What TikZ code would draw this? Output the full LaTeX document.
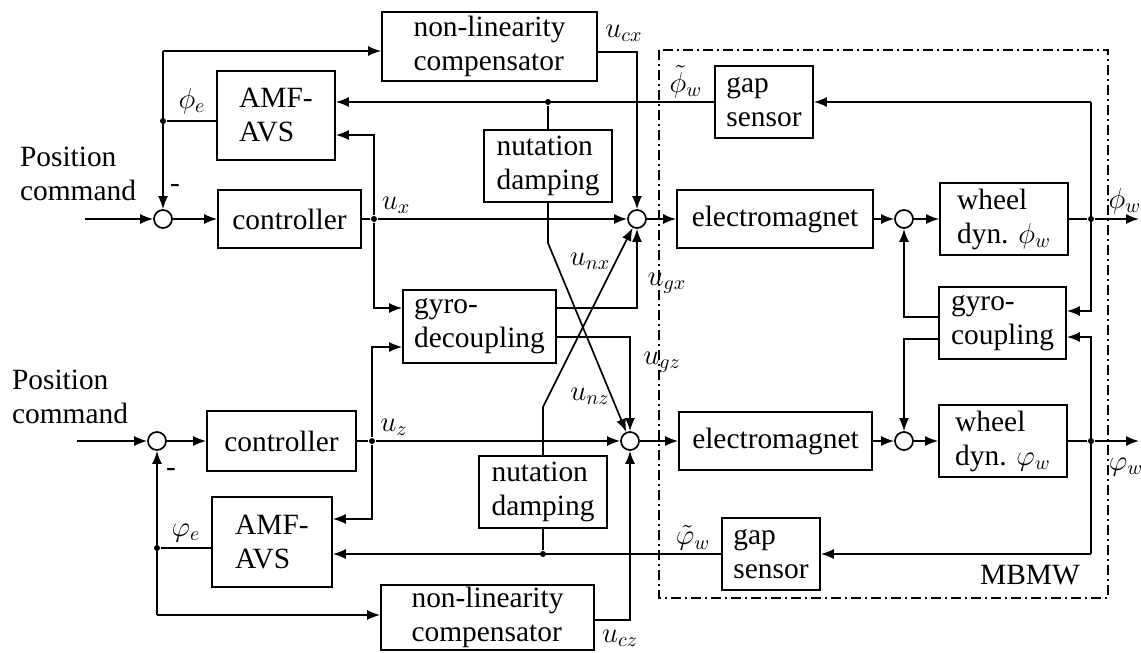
\documentclass[tikz,border=0pt]{standalone}
\usepackage{fontspec}
\setmainfont{Liberation Serif}
\usetikzlibrary{arrows.meta}
\begin{document}
\begin{tikzpicture}[x=0.5pt,y=-0.5pt,line width=0.85pt,
  box/.style={draw,inner sep=0pt,align=left,font=\fontsize{14.7}{17}\selectfont},
  bb/.style n args={4}{at={({(#1+#3)/2},{(#2+#4)/2})},minimum width={(#3-#1)*0.5pt},minimum height={(#4-#2)*0.5pt}},
  sumc/.style={circle,draw,minimum size=9pt,inner sep=0pt},
  dot/.style={circle,fill,minimum size=3pt,inner sep=0pt},
  arr/.style={-{Latex[length=6.5pt,width=5pt]}},
  lbl/.style={font=\fontsize{14.7}{17}\selectfont,inner sep=0pt,align=left},
  mbmw/.style={dash pattern=on 5pt off 2pt on 1pt off 2pt}]
\useasboundingbox (0,0) rectangle (1141,653);
% boxes
\node[box,bb={382}{12}{597}{81}] (nlcT) {non-linearity\\compensator};
\node[box,bb={217}{71}{335}{160}] (amfT) {AMF-\\AVS};
\node[box,bb={218}{190}{361}{248}] (ctrlT) {controller};
\node[box,bb={484}{130}{612}{202}] (nutT) {nutation\\damping};
\node[box,bb={403}{290}{556}{363}] (gyroD) {gyro-\\decoupling};
\node[box,bb={715}{66}{813}{138}] (gapT) {gap\\sensor};
\node[box,bb={677}{190}{873}{248}] (emT) {electromagnet};
\node[box,bb={940}{183}{1068}{255}] (wheelT) {wheel\\dyn. $\phi_w$};
\node[box,bb={939}{287}{1066}{359}] (gyroC) {gyro-\\coupling};
\node[box,bb={679}{412}{872}{470}] (emB) {electromagnet};
\node[box,bb={939}{405}{1067}{477}] (wheelB) {wheel\\dyn. $\varphi_w$};
\node[box,bb={722}{518}{820}{590}] (gapB) {gap\\sensor};
\node[box,bb={479}{456}{607}{528}] (nutB) {nutation\\damping};
\node[box,bb={381}{585}{594}{650}] (nlcB) {non-linearity\\compensator};
\node[box,bb={212}{497}{332}{587}] (amfB) {AMF-\\AVS};
\node[box,bb={207}{411}{356}{471}] (ctrlB) {controller};
% summing points
\node[sumc] (cL1) at (163,219) {};
\node[sumc] (cR1) at (637,219) {};
\node[sumc] (c2T) at (904,219) {};
\node[sumc] (cL2) at (157,441) {};
\node[sumc] (cR2) at (630,441) {};
\node[sumc] (c2B) at (904,441) {};
% junction dots
\node[dot] (jux) at (374,219) {};
\node[dot] (juz) at (372,441) {};
\node[dot] (jphe) at (163,121) {};
\node[dot] (jpve) at (157,548) {};
\node[dot] (jfbT) at (548,102) {};
\node[dot] (jfbB) at (543,554) {};
\node[dot] (jwT) at (1091,219) {};
\node[dot] (jwB) at (1091,441) {};
% helper coordinates
\coordinate (ctop) at (163,51);
\coordinate (cbot) at (157,615);
\coordinate (nxT) at (548,243);
\coordinate (nxB) at (543,407);
\coordinate (rT) at (1091,102);
\coordinate (rB) at (1091,554);
\coordinate (outT) at (1139,219);
\coordinate (outB) at (1139,441);
\coordinate (inT) at (85,219);
\coordinate (inB) at (77,441);
% MBMW frame
\draw[mbmw] (659,50) rectangle (1108,598);
% top loop
\draw[arr] (inT) -- (cL1);
\draw[arr] (cL1) -- (ctrlT);
\draw (ctrlT) -- (jux);
\draw[arr] (jux) -- (cR1);
\draw[arr] (jux) |- (amfT.east |- 0,135);
\draw[arr] (jux) |- (gyroD.west |- 0,308);
\draw[arr] (gapT.west) -- (amfT.east |- gapT.west);
\draw (jfbT) -- (nutT.north);
\draw[arr] (nutT.south) -- (nxT) -- (cR2);
\draw[arr] (nutB.north) -- (nxB) -- (cR1);
\draw[arr] (gyroD.east |- 0,308) -| (cR1.south);
\draw[arr] (gyroD.east |- 0,337) -| (cR2.north);
\draw[arr] (nlcT.east |- 0,52) -| (cR1.north);
\draw[arr] (ctop) -- (cL1.north);
\draw[arr] (ctop) -- (nlcT.west |- ctop);
\draw (amfT.west |- jphe) -- (jphe);
\draw[arr] (cR1) -- (emT);
\draw[arr] (emT) -- (c2T);
\draw[arr] (c2T) -- (wheelT);
\draw (wheelT) -- (jwT);
\draw[arr] (jwT) -- (outT);
\draw[arr] (rT) -- (gapT.east |- rT);
\draw[arr] (rT) |- (gyroC.east |- 0,311);
\draw[arr] (gyroC.west |- 0,317) -| (c2T.south);
\draw[arr] (gyroC.west |- 0,339) -| (c2B.north);
\draw[arr] (rB) |- (gyroC.east |- 0,337);
\draw[arr] (rB) -- (gapB.east |- rB);
\draw (wheelB) -- (jwB);
\draw[arr] (jwB) -- (outB);
\draw[arr] (cR2) -- (emB);
\draw[arr] (emB) -- (c2B);
\draw[arr] (c2B) -- (wheelB);
% bottom loop
\draw[arr] (inB) -- (cL2);
\draw[arr] (cL2) -- (ctrlB);
\draw (ctrlB) -- (juz);
\draw[arr] (juz) -- (cR2);
\draw[arr] (juz) |- (gyroD.west |- 0,347);
\draw[arr] (juz) |- (amfB.east |- 0,519);
\draw[arr] (gapB.west) -- (amfB.east |- gapB.west);
\draw (jfbB) -- (nutB.south);
\draw[arr] (cbot) -- (cL2.south);
\draw[arr] (cbot) -- (nlcB.west |- cbot);
\draw (amfB.west |- jpve) -- (jpve);
\draw[arr] (nlcB.east |- 0,620) -| (cR2.south);
% labels
\node[lbl] (lpT) at (78,174) {Position\\command};
\node[lbl] (lpB) at (70,397) {Position\\command};
\node[lbl] (lux) at (396,205) {$u_x$};
\node[lbl] (luz) at (394,427) {$u_z$};
\node[lbl] (lucx) at (624,33) {$u_{cx}$};
\node[lbl] (lucz) at (620,638) {$u_{cz}$};
\node[lbl] (lugx) at (667,283) {$u_{gx}$};
\node[lbl] (lugz) at (662,362) {$u_{gz}$};
\node[lbl] (lunx) at (590,261) {$u_{nx}$};
\node[lbl] (lunz) at (590,396) {$u_{nz}$};
\node[lbl] (lphe) at (192,101) {$\phi_e$};
\node[lbl] (lvpe) at (186,533) {$\varphi_e$};
\node[lbl] (ltpw) at (686,82) {$\tilde{\phi}_w$};
\node[lbl] (ltvw) at (693,538) {$\tilde{\varphi}_w$};
\node[lbl] (lpw) at (1125,201) {$\phi_w$};
\node[lbl] (lvw) at (1126,467) {$\varphi_w$};
\node[lbl] (mT) at (175,188) {-};
\node[lbl] (mB) at (171,472) {-};
\node[lbl] (lmb) at (1030,575) {MBMW};
\end{tikzpicture}
\end{document}
